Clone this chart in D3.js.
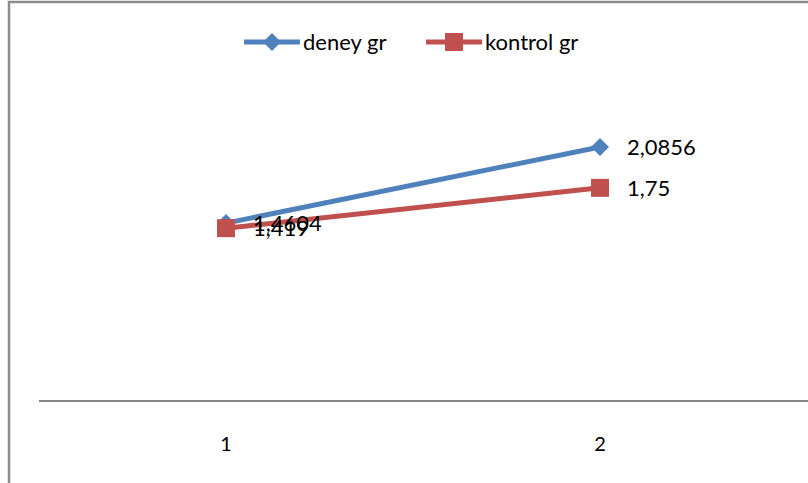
<!DOCTYPE html>
<html lang="tr">
<head>
<meta charset="utf-8">
<title>deney / kontrol</title>
<script src="https://cdn.jsdelivr.net/npm/d3@7"></script>
<style>
  body { margin: 0; background: #fff; }
  svg text { font-family: Lato, "Open Sans", sans-serif; fill: #000; }
</style>
</head>
<body>
<script>
// data
var categories = ["1", "2"];
var deneyValues = [1.4604, 2.0856];
var kontrolValues = [1.419, 1.75];
var seriesNames = ["deney gr", "kontrol gr"];

var W = 808, H = 483;
var svg = d3.select("body").append("svg")
  .attr("width", W).attr("height", H);

svg.append("rect").attr("width", W).attr("height", H).attr("fill", "#fff");

// chart frame (right/bottom edges fall off the picture)
svg.append("rect")
  .attr("x", 9).attr("y", 2)
  .attr("width", W + 20).attr("height", H + 20)
  .attr("fill", "none")
  .attr("stroke", "#8c8c8c")
  .attr("stroke-width", 2.5);

var x = d3.scaleBand().domain(categories).range([39, 787]);
var y = d3.scaleLinear().domain([0, 2.5]).range([401, 96.5]);

// category axis
var xAxis = d3.axisBottom(x).tickSize(0).tickPadding(36);
var gx = svg.append("g")
  .attr("transform", "translate(0,401)")
  .call(xAxis);
gx.select(".domain").attr("stroke", "#878787").attr("stroke-width", 2)
  .attr("d", "M39,0H" + (W + 10));
gx.selectAll("text")
  .style("font-family", "Lato, 'Open Sans', sans-serif")
  .style("font-size", "20px");

var series = [
  { name: seriesNames[0], values: deneyValues, color: "#4f81bd", shape: "diamond" },
  { name: seriesNames[1], values: kontrolValues, color: "#c0504d", shape: "square" }
];

var cx = function(i) { return x(categories[i]) + x.bandwidth() / 2; };

var line = d3.line()
  .x(function(d, i) { return cx(i); })
  .y(function(d) { return y(d); });

function marker(g, shape, color, px, py) {
  if (shape === "diamond") {
    g.append("path")
      .attr("d", "M" + px + "," + (py - 9) + "L" + (px + 9) + "," + py +
                 "L" + px + "," + (py + 9) + "L" + (px - 9) + "," + py + "Z")
      .attr("fill", color);
  } else {
    g.append("rect")
      .attr("x", px - 9).attr("y", py - 9)
      .attr("width", 18).attr("height", 18)
      .attr("fill", color);
  }
}

series.forEach(function(s) {
  var g = svg.append("g");
  g.append("path")
    .datum(s.values)
    .attr("d", line)
    .attr("fill", "none")
    .attr("stroke", s.color)
    .attr("stroke-width", 5);
  s.values.forEach(function(v, i) {
    marker(g, s.shape, s.color, cx(i), y(v));
  });
});

// data labels
series.forEach(function(s) {
  s.values.forEach(function(v, i) {
    svg.append("text")
      .attr("x", cx(i) + 27)
      .attr("y", y(v) + 8)
      .style("font-size", "22px")
      .text(String(v).replace(".", ","));
  });
});

// legend
var legX = [244, 426];
series.forEach(function(s, k) {
  var lg = svg.append("g");
  var x0 = legX[k];
  lg.append("line")
    .attr("x1", x0).attr("x2", x0 + 56)
    .attr("y1", 42).attr("y2", 42)
    .attr("stroke", s.color).attr("stroke-width", 5);
  marker(lg, s.shape, s.color, x0 + 28, 42);
  lg.append("text")
    .attr("x", x0 + 59).attr("y", 50)
    .style("font-size", "22px")
    .text(s.name);
});
</script>
</body>
</html>
